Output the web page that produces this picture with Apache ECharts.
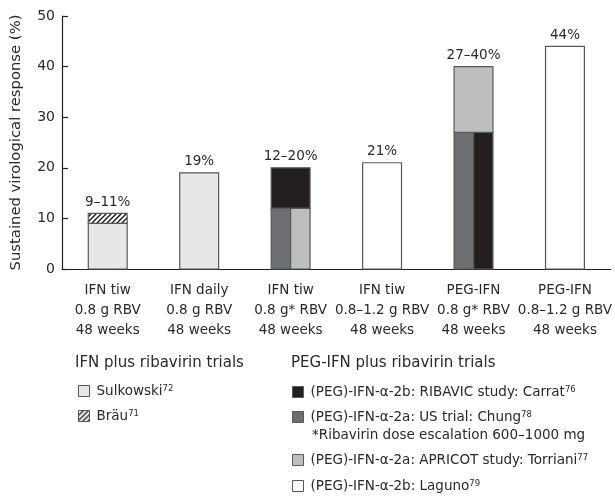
<!DOCTYPE html>
<html><head><meta charset="utf-8">
<script src="https://cdn.jsdelivr.net/npm/echarts@6/dist/echarts.min.js"></script>
<style>html,body{margin:0;padding:0;background:#fff}#c{width:615px;height:496px}</style>
</head><body><div id="c"></div><script>
// ---- data ----
const categories = [
  'IFN tiw\n0.8 g RBV\n48 weeks',
  'IFN daily\n0.8 g RBV\n48 weeks',
  'IFN tiw\n0.8 g* RBV\n48 weeks',
  'IFN tiw\n0.8–1.2 g RBV\n48 weeks',
  'PEG-IFN\n0.8 g* RBV\n48 weeks',
  'PEG-IFN\n0.8–1.2 g RBV\n48 weeks'
];
const rangeLabels = ['9–11%', '19%', '12–20%', '21%', '27–40%', '44%'];
const sulkowski = [9, 19, null, null, null, null];
const brau      = [11, null, null, null, null, null];
const carrat    = [null, null, 20, null, 27, null];
const chung     = [null, null, 12, null, 27, null];
const torriani  = [null, null, 12, null, 40, null];
const laguno    = [null, null, null, 21, null, 44];
const yTicks = [0, 10, 20, 30, 40, 50];

// ---- styling ----
const TXT = '#2a2a2a';
const FONT = 'DejaVu Sans';
function hatch() {
  const s = 5, c = document.createElement('canvas');
  c.width = s; c.height = s;
  const g = c.getContext('2d');
  g.fillStyle = '#fff'; g.fillRect(0, 0, s, s);
  g.strokeStyle = '#111'; g.lineWidth = 1.3;
  g.beginPath();
  g.moveTo(-1, s + 1); g.lineTo(s + 1, -1);
  g.moveTo(-1, 1); g.lineTo(1, -1);
  g.moveTo(s - 1, s + 1); g.lineTo(s + 1, s - 1);
  g.stroke();
  return { image: c, repeat: 'repeat' };
}
const studies = [
  { key: 'sulkowski', name: 'Sulkowski', sup: '72', values: sulkowski, color: '#e6e7e8', prio: 1 },
  { key: 'brau', name: 'Bräu', sup: '71', values: brau, color: hatch(), prio: 2 },
  { key: 'carrat', name: '(PEG)-IFN-α-2b: RIBAVIC study: Carrat', sup: '76', values: carrat, color: '#231f20', prio: 4 },
  { key: 'chung', name: '(PEG)-IFN-α-2a: US trial: Chung', sup: '78', values: chung, color: '#6d6e71', prio: 3 },
  { key: 'torriani', name: '(PEG)-IFN-α-2a: APRICOT study: Torriani', sup: '77', values: torriani, color: '#bcbec0', prio: 5 },
  { key: 'laguno', name: '(PEG)-IFN-α-2b: Laguno', sup: '79', values: laguno, color: '#ffffff', prio: 6 }
];

// layout in value units: each study segment goes from the previous distinct value to its own
const layout = {};
studies.forEach(s => layout[s.key] = []);
categories.forEach((c, i) => {
  const ent = studies.filter(s => s.values[i] != null);
  const vals = [...new Set(ent.map(s => s.values[i]))].sort((a, b) => a - b);
  vals.forEach((v, k) => {
    const from = k === 0 ? 0 : vals[k - 1];
    const grp = ent.filter(s => s.values[i] === v).sort((a, b) => a.prio - b.prio);
    grp.forEach((s, j) => layout[s.key][i] = { from, to: v, part: j, parts: grp.length });
  });
});
const tops = categories.map((c, i) => Math.max(...studies.map(s => s.values[i] == null ? 0 : s.values[i])));

const BAR = 0.425;
const series = studies.map(s => ({
  type: 'custom',
  name: s.name,
  itemStyle: { color: s.color, borderColor: '#58595b', borderWidth: 1 },
  data: s.values.map((v, i) => v == null ? null : [i, v]).filter(d => d),
  renderItem: (params, api) => {
    const cat = api.value(0);
    const seg = layout[s.key][cat];
    const p0 = api.coord([cat, seg.from]);
    const p1 = api.coord([cat, seg.to]);
    const bw = api.size([1, 0])[0] * BAR;
    const w = bw / seg.parts;
    return {
      type: 'rect',
      shape: { x: p0[0] - bw / 2 + w * seg.part, y: p1[1], width: w, height: p0[1] - p1[1] },
      style: { fill: s.color, stroke: '#58595b', lineWidth: 1.2 }
    };
  }
}));
series.push({
  type: 'custom',
  name: 'labels',
  silent: true,
  data: tops.map((t, i) => [i, t]),
  renderItem: (params, api) => {
    const p = api.coord([api.value(0), api.value(1)]);
    return {
      type: 'text', x: p[0], y: p[1] - 11,
      style: { text: rangeLabels[params.dataIndex], align: 'center', verticalAlign: 'middle',
               fontSize: 13.5, fontFamily: FONT, fill: TXT }
    };
  }
});

const supOf = {}; studies.forEach(s => supOf[s.name] = s.sup);
const legendBase = {
  orient: 'vertical', icon: 'rect', itemWidth: 11, itemHeight: 11, itemGap: 10,
  padding: 0, selectedMode: false,
  itemStyle: { borderColor: '#58595b', borderWidth: 1 },
  formatter: n => '{g|}' + n + '{s|' + supOf[n] + '}',
  textStyle: {
    color: TXT, fontSize: 13.5, fontFamily: FONT, lineHeight: 14,
    rich: {
      g: { width: 2 },
      s: { fontSize: 8.5, fontFamily: FONT, color: TXT, verticalAlign: 'top', lineHeight: 10, padding: [0, 0, 6, 0] }
    }
  }
};

const chart = echarts.init(document.getElementById('c'));
chart.setOption({
  animation: false,
  grid: { left: 62, right: 3, top: 16, bottom: 227 },
  xAxis: {
    type: 'category', data: categories,
    axisLine: { lineStyle: { color: '#231f20', width: 1.2 } },
    axisTick: { inside: true, length: 9, interval: 0, lineStyle: { color: '#231f20', width: 1.2 } },
    axisLabel: { interval: 0, margin: 11, color: TXT, fontSize: 13.5, fontFamily: FONT, lineHeight: 20 }
  },
  yAxis: {
    type: 'value', min: 0, max: 50, interval: 10,
    name: 'Sustained virological response (%)', nameLocation: 'middle', nameGap: 38,
    nameTextStyle: { color: TXT, fontSize: 14.8, fontFamily: FONT },
    axisLine: { show: true, lineStyle: { color: '#231f20', width: 1.2 } },
    axisTick: { show: true, inside: true, length: 6, lineStyle: { color: '#231f20', width: 1.2 } },
    axisLabel: { color: TXT, fontSize: 14, fontFamily: FONT, margin: 7,
                 formatter: v => yTicks.includes(v) ? String(v) : '' },
    splitLine: { show: false }
  },
  legend: [
    Object.assign({}, legendBase, { data: [studies[0].name, studies[1].name], left: 78, top: 384 }),
    Object.assign({}, legendBase, { data: [studies[2].name, studies[3].name], left: 292, top: 385 }),
    Object.assign({}, legendBase, { data: [studies[4].name, studies[5].name], left: 292, top: 453, itemGap: 11 })
  ],
  graphic: [
    { type: 'text', left: 75, top: 356, style: { text: 'IFN plus ribavirin trials', fontSize: 15, fontFamily: FONT, fill: TXT } },
    { type: 'text', left: 291, top: 356, style: { text: 'PEG-IFN plus ribavirin trials', fontSize: 15, fontFamily: FONT, fill: TXT } },
    { type: 'text', left: 312, top: 428, style: { text: '*Ribavirin dose escalation 600–1000 mg', fontSize: 13.5, fontFamily: FONT, fill: TXT } }
  ],
  series
});
</script></body></html>
